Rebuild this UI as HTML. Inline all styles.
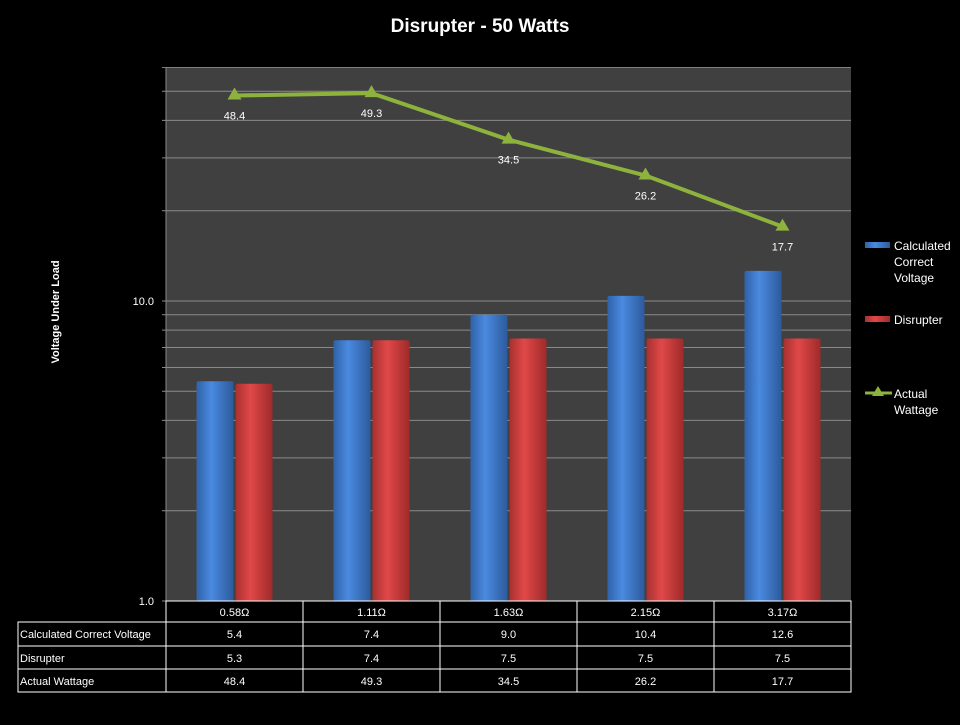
<!DOCTYPE html>
<html><head><meta charset="utf-8"><style>
body{margin:0;background:#000;width:960px;height:720px;overflow:hidden;font-family:"Liberation Sans",sans-serif}
</style></head><body>
<svg width="960" height="720" xmlns="http://www.w3.org/2000/svg" id="svg">
<defs>
<linearGradient id="gb" x1="0" x2="1" y1="0" y2="0"><stop offset="0" stop-color="#2f62a8"/><stop offset="0.4" stop-color="#4a8ae0"/><stop offset="1" stop-color="#2c5a9c"/></linearGradient>
<linearGradient id="gr" x1="0" x2="1" y1="0" y2="0"><stop offset="0" stop-color="#a83030"/><stop offset="0.4" stop-color="#e04848"/><stop offset="1" stop-color="#a02a2a"/></linearGradient>
</defs>
<text x="480" y="32" fill="#fff" font-size="19" font-weight="bold" text-anchor="middle">Disrupter - 50 Watts</text>
<rect x="166" y="68" width="685" height="533" fill="#404040"/>
<g id="grid"></g><g id="bars"></g><g id="line"></g><g id="table"></g>
<text transform="translate(59,312) rotate(-90)" fill="#fff" font-size="11" font-weight="bold" text-anchor="middle">Voltage Under Load</text>
<g font-size="12" fill="#fff">
<rect x="865" y="242" width="25" height="6" fill="url(#gb)"/>
<text x="894" y="250"><tspan x="894">Calculated</tspan><tspan x="894" dy="16">Correct</tspan><tspan x="894" dy="16">Voltage</tspan></text>
<rect x="865" y="316" width="25" height="6" fill="url(#gr)"/>
<text x="894" y="324">Disrupter</text>
<line x1="865" y1="393" x2="892" y2="393" stroke="#8db33d" stroke-width="3"/>
<polygon points="878,386 872,396 884,396" fill="#8db33d"/>
<text x="894" y="398"><tspan x="894">Actual</tspan><tspan x="894" dy="16">Wattage</tspan></text>
</g>
</svg>
<script>
const categories=["0.58Ω","1.11Ω","1.63Ω","2.15Ω","3.17Ω"];
const calcVoltage=[5.4,7.4,9.0,10.4,12.6];
const disrupter=[5.3,7.4,7.5,7.5,7.5];
const wattage=[48.4,49.3,34.5,26.2,17.7];
const gridValues=[1,2,3,4,5,6,7,8,9,10,20,30,40,50,60];
const tickLabels=[[1,"1.0"],[10,"10.0"]];
const NS="http://www.w3.org/2000/svg";
const X0=166,W=685,Y0=601,DEC=300;
function y(v){return Y0-Math.log10(v)*DEC;}
function xc(i){return X0+W/categories.length*(i+0.5);}
function mk(t,a,p){const e=document.createElementNS(NS,t);for(const k in a)e.setAttribute(k,a[k]);(p||document.getElementById('svg')).appendChild(e);return e;}
const grid=document.getElementById('grid');
gridValues.forEach(v=>{const l=mk('line',{x1:X0-4,x2:X0+W,y1:y(v),y2:y(v),stroke:v===60?'#808080':'#8a8a8a','stroke-width':1},grid);

});
mk('line',{x1:X0,x2:X0,y1:68,y2:601,stroke:'#8a8a8a'},grid);
tickLabels.forEach(t=>{const e=mk('text',{x:X0-12,y:y(t[0])+4,fill:'#fff','font-size':11,'text-anchor':'end'},grid);e.textContent=t[1];

});
const bars=document.getElementById('bars');
categories.forEach((c,i)=>{
 const b=mk('rect',{x:xc(i)-38,y:y(calcVoltage[i]),width:37,height:Y0-y(calcVoltage[i]),fill:'url(#gb)',rx:2},bars);
 
 
 const r=mk('rect',{x:xc(i)+1,y:y(disrupter[i]),width:37,height:Y0-y(disrupter[i]),fill:'url(#gr)',rx:2},bars);
 
 
});
const lg=document.getElementById('line');
const pl=mk('polyline',{points:wattage.map((v,i)=>xc(i)+','+y(v)).join(' '),fill:'none',stroke:'#8db33d','stroke-width':4},lg);


wattage.forEach((v,i)=>{const X=xc(i),Y=y(v);
 const m=mk('polygon',{points:`${X},${Y-8} ${X-7},${Y+4} ${X+7},${Y+4}`,fill:'#8db33d'},lg);
 
 
 const t=mk('text',{x:X,y:Y+24,fill:'#fff','font-size':11,'text-anchor':'middle'},lg);t.textContent=v.toFixed(1);
 
 });
const tb=document.getElementById('table');
const rows=[[601,622],[622,646],[646,669],[669,692]];
const names=["Calculated Correct Voltage","Disrupter","Actual Wattage"];
const series=[calcVoltage,disrupter,wattage];
const cw=W/categories.length;
mk('rect',{x:X0,y:601,width:W,height:91,fill:'none',stroke:'#fff'},tb);
mk('rect',{x:18,y:622,width:X0-18,height:70,fill:'none',stroke:'#fff'},tb);
rows.forEach(r=>mk('line',{x1:r[0]===601?X0:18,x2:X0+W,y1:r[0],y2:r[0],stroke:'#fff'},tb));
for(let i=1;i<categories.length;i++)mk('line',{x1:X0+cw*i,x2:X0+cw*i,y1:601,y2:692,stroke:'#fff'},tb);
categories.forEach((c,i)=>{const t=mk('text',{x:xc(i),y:616,fill:'#fff','font-size':11,'text-anchor':'middle'},tb);t.textContent=c;
 
 });
series.forEach((s,j)=>{const ry=rows[j+1][0]+16;
 const n=mk('text',{x:20,y:ry,fill:'#fff','font-size':11},tb);n.textContent=names[j];
 
 
 s.forEach((v,i)=>{const t=mk('text',{x:xc(i),y:ry,fill:'#fff','font-size':11,'text-anchor':'middle'},tb);t.textContent=v.toFixed(1);
 
 });});
</script>
</body></html>
